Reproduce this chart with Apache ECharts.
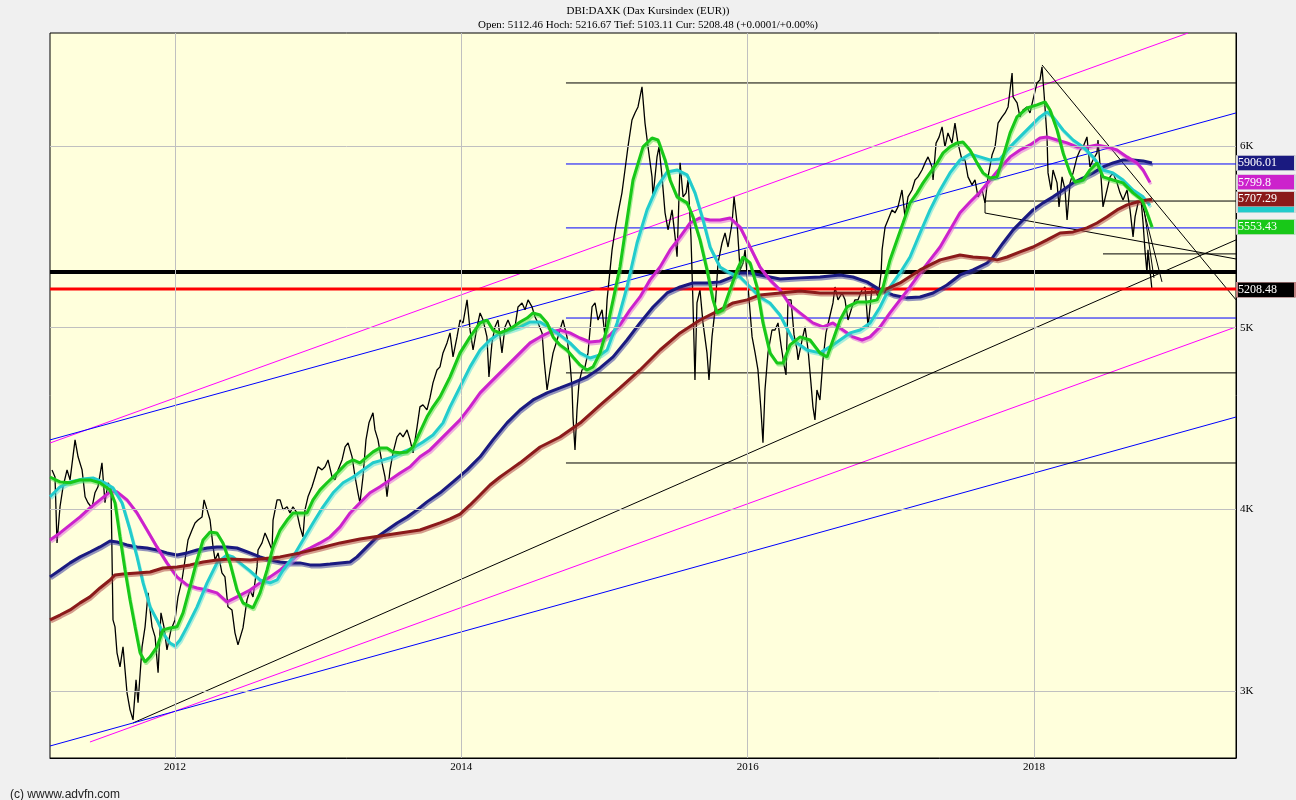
<!DOCTYPE html>
<html>
<head>
<meta charset="utf-8">
<script src="https://cdn.jsdelivr.net/npm/echarts@6/dist/echarts.min.js"></script>
<style>html,body{margin:0;padding:0;background:#F0F0F0;}#c{width:1296px;height:800px;}</style>
</head>
<body>
<div id="c"></div>
<script>
// ---- axis range & ticks ----
const X_MIN = 2011.127, X_MAX = 2019.411;
const Y_MIN = 2631, Y_MAX = 6622;
const xTicks = [2012, 2014, 2016, 2018];
const yTicks = [3000, 4000, 5000, 6000];

// ---- price (close) [decimal year, value] ----
const price = [[2011.141,4217],[2011.162,4178],[2011.176,3815],[2011.197,4014],[2011.218,4124],[2011.246,4217],[2011.267,4162],[2011.302,4382],[2011.323,4289],[2011.351,4217],[2011.372,4069],[2011.392,4036],[2011.420,4008],[2011.441,4091],[2011.462,4124],[2011.490,4256],[2011.511,4036],[2011.532,4146],[2011.553,4124],[2011.567,3391],[2011.581,3353],[2011.595,3210],[2011.616,3133],[2011.637,3243],[2011.665,2990],[2011.686,2896],[2011.707,2841],[2011.728,3061],[2011.742,2935],[2011.770,3243],[2011.791,3353],[2011.812,3540],[2011.840,3353],[2011.861,3298],[2011.882,3100],[2011.902,3430],[2011.923,3353],[2011.944,3226],[2011.972,3336],[2012.000,3391],[2012.021,3518],[2012.049,3611],[2012.070,3721],[2012.091,3831],[2012.119,3886],[2012.140,3925],[2012.161,3941],[2012.189,3958],[2012.203,4052],[2012.224,3997],[2012.245,3941],[2012.266,3793],[2012.280,3721],[2012.301,3760],[2012.328,3650],[2012.349,3628],[2012.370,3463],[2012.398,3446],[2012.419,3320],[2012.440,3254],[2012.475,3347],[2012.503,3501],[2012.524,3556],[2012.545,3518],[2012.573,3683],[2012.580,3776],[2012.608,3815],[2012.629,3870],[2012.650,3831],[2012.678,3776],[2012.685,3941],[2012.713,4052],[2012.734,4052],[2012.755,3997],[2012.783,4014],[2012.803,3980],[2012.824,4014],[2012.852,3980],[2012.873,3903],[2012.894,3848],[2012.908,3997],[2012.929,4069],[2012.957,4124],[2012.978,4178],[2012.999,4234],[2013.027,4217],[2013.048,4234],[2013.069,4272],[2013.097,4178],[2013.118,4162],[2013.139,4217],[2013.167,4272],[2013.188,4344],[2013.209,4366],[2013.237,4289],[2013.258,4178],[2013.278,4091],[2013.292,4036],[2013.313,4178],[2013.334,4382],[2013.355,4476],[2013.383,4531],[2013.397,4437],[2013.418,4382],[2013.446,4256],[2013.467,4178],[2013.481,4069],[2013.502,4217],[2013.523,4311],[2013.551,4399],[2013.572,4421],[2013.593,4399],[2013.621,4437],[2013.642,4382],[2013.663,4311],[2013.691,4454],[2013.711,4564],[2013.732,4575],[2013.760,4547],[2013.781,4613],[2013.802,4696],[2013.830,4767],[2013.851,4784],[2013.872,4861],[2013.900,4916],[2013.921,4971],[2013.942,4839],[2013.970,4949],[2013.991,5042],[2014.012,5026],[2014.040,5153],[2014.061,4987],[2014.082,4877],[2014.110,5004],[2014.131,5081],[2014.152,5042],[2014.179,4949],[2014.193,4728],[2014.214,4916],[2014.235,5004],[2014.256,5042],[2014.284,4861],[2014.305,5004],[2014.326,5042],[2014.354,4987],[2014.375,5004],[2014.396,5114],[2014.424,5136],[2014.445,5098],[2014.466,5153],[2014.494,5114],[2014.515,5059],[2014.536,5026],[2014.564,4971],[2014.578,4822],[2014.599,4657],[2014.620,4767],[2014.641,4861],[2014.669,4932],[2014.689,4987],[2014.710,5042],[2014.738,4949],[2014.759,4806],[2014.773,4673],[2014.780,4509],[2014.794,4327],[2014.808,4547],[2014.822,4696],[2014.843,4767],[2014.864,4784],[2014.885,4861],[2014.913,5114],[2014.934,5136],[2014.955,5042],[2014.983,5098],[2015.004,4949],[2015.018,5153],[2015.039,5318],[2015.053,5428],[2015.074,5538],[2015.095,5632],[2015.122,5742],[2015.143,5868],[2015.164,5995],[2015.192,6143],[2015.213,6182],[2015.234,6215],[2015.262,6326],[2015.283,6126],[2015.304,5995],[2015.332,5830],[2015.339,5720],[2015.367,5940],[2015.381,5995],[2015.402,5830],[2015.423,5632],[2015.444,5538],[2015.472,5648],[2015.493,5500],[2015.507,5390],[2015.528,5907],[2015.549,5720],[2015.570,5742],[2015.584,5813],[2015.604,5500],[2015.618,5136],[2015.632,4712],[2015.646,5136],[2015.667,5208],[2015.688,5026],[2015.716,4861],[2015.730,4712],[2015.751,4949],[2015.772,5098],[2015.793,5356],[2015.821,5466],[2015.842,5521],[2015.863,5444],[2015.891,5576],[2015.905,5720],[2015.926,5576],[2015.947,5318],[2015.968,5356],[2015.982,5428],[2016.003,5224],[2016.031,4949],[2016.052,4861],[2016.072,4767],[2016.093,4547],[2016.107,4366],[2016.121,4657],[2016.142,4861],[2016.170,4987],[2016.191,4987],[2016.212,5026],[2016.233,4904],[2016.254,4795],[2016.268,4740],[2016.282,5153],[2016.303,5153],[2016.324,4960],[2016.345,4877],[2016.352,4822],[2016.380,4932],[2016.401,5004],[2016.422,4877],[2016.442,4696],[2016.456,4564],[2016.470,4492],[2016.484,4657],[2016.505,4602],[2016.526,4822],[2016.547,4971],[2016.568,5042],[2016.596,5136],[2016.610,5224],[2016.631,5153],[2016.659,5191],[2016.680,5153],[2016.701,5042],[2016.729,5114],[2016.750,5153],[2016.771,5153],[2016.799,5208],[2016.820,5224],[2016.841,5004],[2016.869,5224],[2016.890,5208],[2016.911,5169],[2016.932,5301],[2016.939,5428],[2016.960,5554],[2016.980,5593],[2017.008,5648],[2017.029,5632],[2017.050,5665],[2017.078,5758],[2017.099,5610],[2017.120,5720],[2017.148,5758],[2017.169,5813],[2017.190,5830],[2017.218,5868],[2017.239,5907],[2017.260,5940],[2017.288,5885],[2017.295,5813],[2017.316,6016],[2017.337,6049],[2017.358,6105],[2017.378,5995],[2017.399,6072],[2017.427,6016],[2017.448,6126],[2017.469,6016],[2017.497,5923],[2017.518,5923],[2017.539,5830],[2017.567,5786],[2017.588,5813],[2017.609,5720],[2017.637,5758],[2017.658,5687],[2017.679,5830],[2017.707,5950],[2017.728,5995],[2017.749,6126],[2017.777,6160],[2017.798,6182],[2017.819,6215],[2017.847,6402],[2017.854,6270],[2017.882,6237],[2017.902,6160],[2017.923,6198],[2017.951,6215],[2017.972,6182],[2017.993,6254],[2018.021,6347],[2018.042,6364],[2018.056,6435],[2018.070,6292],[2018.091,6050],[2018.098,5852],[2018.119,5758],[2018.133,5868],[2018.161,5797],[2018.175,5665],[2018.196,5830],[2018.217,5758],[2018.231,5593],[2018.252,5797],[2018.273,5852],[2018.301,5940],[2018.322,5978],[2018.343,5995],[2018.370,6050],[2018.391,5885],[2018.412,5923],[2018.440,5962],[2018.447,6033],[2018.468,5830],[2018.482,5665],[2018.510,5758],[2018.531,5830],[2018.552,5852],[2018.580,5797],[2018.601,5742],[2018.622,5703],[2018.650,5758],[2018.671,5648],[2018.692,5500],[2018.706,5610],[2018.727,5687],[2018.748,5703],[2018.762,5576],[2018.775,5428],[2018.789,5301],[2018.796,5428],[2018.810,5318],[2018.824,5208.48]];

// ---- moving averages ----
const maGreen = [[2011.127,4178],[2011.197,4151],[2011.267,4146],[2011.337,4162],[2011.406,4162],[2011.476,4146],[2011.546,4107],[2011.581,4036],[2011.616,3848],[2011.651,3666],[2011.686,3501],[2011.721,3353],[2011.756,3210],[2011.791,3160],[2011.826,3188],[2011.874,3243],[2011.916,3336],[2011.965,3347],[2012.014,3353],[2012.056,3430],[2012.105,3573],[2012.154,3721],[2012.196,3831],[2012.245,3875],[2012.293,3870],[2012.335,3815],[2012.384,3705],[2012.433,3556],[2012.475,3485],[2012.545,3457],[2012.594,3540],[2012.643,3666],[2012.685,3793],[2012.734,3886],[2012.783,3941],[2012.824,3980],[2012.873,3980],[2012.922,3980],[2012.964,4052],[2013.013,4107],[2013.062,4146],[2013.104,4178],[2013.153,4217],[2013.202,4256],[2013.244,4272],[2013.292,4256],[2013.341,4289],[2013.383,4316],[2013.432,4338],[2013.481,4338],[2013.523,4316],[2013.572,4311],[2013.621,4316],[2013.663,4344],[2013.711,4426],[2013.760,4509],[2013.802,4564],[2013.851,4619],[2013.921,4729],[2013.991,4861],[2014.061,4949],[2014.131,5026],[2014.179,5042],[2014.221,4987],[2014.270,4971],[2014.319,4987],[2014.361,5004],[2014.410,5031],[2014.459,5053],[2014.501,5081],[2014.550,5070],[2014.599,5026],[2014.641,4949],[2014.689,4905],[2014.738,4877],[2014.780,4839],[2014.829,4795],[2014.878,4767],[2014.920,4784],[2014.969,4861],[2015.018,4998],[2015.060,5153],[2015.108,5334],[2015.157,5593],[2015.199,5813],[2015.269,5995],[2015.332,6044],[2015.374,6033],[2015.423,5923],[2015.458,5813],[2015.507,5720],[2015.577,5687],[2015.618,5610],[2015.667,5483],[2015.716,5318],[2015.758,5153],[2015.786,5081],[2015.828,5098],[2015.877,5208],[2015.926,5318],[2015.968,5389],[2016.017,5356],[2016.065,5224],[2016.107,5026],[2016.156,4861],[2016.205,4806],[2016.247,4806],[2016.296,4905],[2016.366,4949],[2016.436,4932],[2016.505,4861],[2016.554,4839],[2016.596,4932],[2016.645,5042],[2016.694,5114],[2016.764,5141],[2016.834,5141],[2016.904,5153],[2016.946,5224],[2016.994,5373],[2017.043,5483],[2017.085,5576],[2017.134,5687],[2017.183,5742],[2017.225,5797],[2017.274,5852],[2017.323,5907],[2017.365,5962],[2017.413,5995],[2017.462,6017],[2017.504,6022],[2017.553,5978],[2017.602,5907],[2017.644,5852],[2017.693,5824],[2017.742,5830],[2017.784,5940],[2017.833,6072],[2017.881,6160],[2017.951,6209],[2018.021,6226],[2018.077,6243],[2018.112,6198],[2018.161,6088],[2018.203,5962],[2018.252,5852],[2018.287,5802],[2018.343,5813],[2018.391,5868],[2018.440,5907],[2018.482,5830],[2018.552,5813],[2018.622,5797],[2018.692,5742],[2018.755,5703],[2018.789,5632],[2018.824,5553.43]];
const maCyan = [[2011.127,4069],[2011.197,4124],[2011.267,4151],[2011.358,4167],[2011.427,4173],[2011.497,4151],[2011.567,4118],[2011.630,4036],[2011.686,3886],[2011.735,3738],[2011.777,3595],[2011.826,3463],[2011.874,3391],[2011.916,3320],[2011.965,3264],[2012.000,3248],[2012.035,3281],[2012.084,3353],[2012.154,3463],[2012.224,3595],[2012.293,3705],[2012.363,3749],[2012.405,3738],[2012.454,3705],[2012.524,3661],[2012.594,3611],[2012.664,3595],[2012.713,3611],[2012.755,3666],[2012.824,3738],[2012.894,3831],[2012.964,3925],[2013.034,4014],[2013.104,4091],[2013.174,4146],[2013.244,4178],[2013.313,4217],[2013.383,4256],[2013.453,4272],[2013.523,4289],[2013.593,4316],[2013.663,4338],[2013.732,4371],[2013.802,4409],[2013.872,4476],[2013.921,4564],[2013.991,4674],[2014.061,4784],[2014.131,4877],[2014.200,4932],[2014.270,4971],[2014.340,4987],[2014.410,5004],[2014.480,5031],[2014.550,5031],[2014.620,4998],[2014.689,4960],[2014.759,4916],[2014.829,4861],[2014.899,4833],[2014.969,4850],[2015.018,4877],[2015.088,5026],[2015.157,5224],[2015.227,5466],[2015.297,5648],[2015.367,5775],[2015.437,5857],[2015.507,5868],[2015.577,5841],[2015.632,5742],[2015.688,5593],[2015.737,5444],[2015.807,5334],[2015.877,5301],[2015.947,5279],[2016.017,5224],[2016.086,5169],[2016.156,5136],[2016.226,5070],[2016.317,4932],[2016.415,4877],[2016.505,4861],[2016.575,4894],[2016.645,4932],[2016.715,4971],[2016.785,4987],[2016.855,5026],[2016.925,5114],[2016.994,5224],[2017.064,5301],[2017.134,5389],[2017.204,5521],[2017.274,5648],[2017.344,5758],[2017.413,5852],[2017.483,5923],[2017.553,5956],[2017.623,5940],[2017.693,5923],[2017.763,5929],[2017.833,5995],[2017.902,6050],[2017.972,6105],[2018.042,6160],[2018.091,6187],[2018.133,6160],[2018.203,6088],[2018.273,6033],[2018.343,5995],[2018.412,5940],[2018.482,5868],[2018.552,5852],[2018.622,5813],[2018.692,5758],[2018.762,5720],[2018.810,5673.6]];
const maMagenta = [[2011.127,3831],[2011.197,3870],[2011.267,3914],[2011.337,3958],[2011.406,4008],[2011.476,4052],[2011.546,4096],[2011.595,4096],[2011.665,4052],[2011.735,3980],[2011.805,3886],[2011.874,3793],[2011.944,3705],[2012.014,3628],[2012.084,3584],[2012.154,3567],[2012.224,3556],[2012.293,3540],[2012.363,3490],[2012.433,3518],[2012.524,3556],[2012.594,3595],[2012.664,3628],[2012.734,3666],[2012.803,3710],[2012.873,3760],[2012.943,3787],[2013.013,3815],[2013.083,3848],[2013.153,3903],[2013.223,3980],[2013.292,4036],[2013.362,4091],[2013.432,4124],[2013.502,4162],[2013.572,4200],[2013.642,4234],[2013.711,4289],[2013.781,4327],[2013.851,4382],[2013.921,4437],[2013.991,4492],[2014.061,4564],[2014.131,4641],[2014.200,4696],[2014.270,4751],[2014.340,4806],[2014.410,4861],[2014.480,4916],[2014.550,4949],[2014.620,4976],[2014.689,4987],[2014.759,4971],[2014.829,4943],[2014.899,4921],[2014.969,4927],[2015.039,4960],[2015.108,5015],[2015.178,5098],[2015.248,5169],[2015.318,5263],[2015.388,5334],[2015.458,5428],[2015.528,5500],[2015.597,5576],[2015.667,5604],[2015.737,5593],[2015.807,5593],[2015.877,5604],[2015.947,5554],[2016.017,5444],[2016.086,5334],[2016.156,5263],[2016.226,5208],[2016.296,5125],[2016.366,5081],[2016.456,5026],[2016.526,5004],[2016.596,5026],[2016.666,4987],[2016.736,4949],[2016.799,4932],[2016.855,4949],[2016.925,5004],[2016.994,5081],[2017.064,5153],[2017.134,5224],[2017.204,5301],[2017.274,5373],[2017.344,5444],[2017.413,5538],[2017.483,5632],[2017.553,5692],[2017.623,5747],[2017.693,5813],[2017.763,5879],[2017.833,5940],[2017.902,5978],[2017.972,6006],[2018.042,6044],[2018.091,6050],[2018.161,6033],[2018.231,6017],[2018.301,5995],[2018.370,5995],[2018.440,6006],[2018.510,5995],[2018.580,5978],[2018.650,5940],[2018.720,5907],[2018.762,5868],[2018.810,5799.8]];
const maNavy = [[2011.127,3628],[2011.197,3666],[2011.267,3705],[2011.337,3738],[2011.406,3765],[2011.476,3793],[2011.546,3826],[2011.595,3820],[2011.665,3804],[2011.735,3793],[2011.805,3787],[2011.874,3776],[2011.944,3760],[2012.014,3749],[2012.084,3760],[2012.154,3776],[2012.224,3787],[2012.293,3793],[2012.363,3793],[2012.433,3787],[2012.524,3760],[2012.594,3738],[2012.664,3721],[2012.734,3710],[2012.803,3705],[2012.873,3705],[2012.943,3694],[2013.013,3694],[2013.083,3699],[2013.153,3705],[2013.223,3710],[2013.271,3738],[2013.341,3793],[2013.411,3848],[2013.481,3886],[2013.551,3925],[2013.621,3958],[2013.691,3997],[2013.760,4041],[2013.851,4091],[2013.942,4151],[2014.040,4217],[2014.131,4289],[2014.221,4382],[2014.319,4476],[2014.410,4547],[2014.501,4602],[2014.599,4641],[2014.689,4668],[2014.780,4696],[2014.878,4729],[2014.969,4778],[2015.060,4839],[2015.157,4932],[2015.248,5026],[2015.339,5114],[2015.437,5191],[2015.528,5224],[2015.618,5246],[2015.716,5246],[2015.807,5252],[2015.877,5274],[2015.947,5301],[2016.017,5301],[2016.086,5290],[2016.156,5279],[2016.226,5268],[2016.366,5274],[2016.505,5279],[2016.645,5290],[2016.736,5279],[2016.834,5252],[2016.925,5208],[2017.015,5180],[2017.113,5164],[2017.204,5169],[2017.295,5191],[2017.392,5235],[2017.483,5290],[2017.574,5318],[2017.672,5356],[2017.714,5389],[2017.784,5466],[2017.854,5538],[2017.923,5593],[2017.993,5648],[2018.063,5687],[2018.133,5720],[2018.203,5758],[2018.273,5797],[2018.343,5824],[2018.412,5852],[2018.482,5885],[2018.552,5907],[2018.622,5923],[2018.692,5923],[2018.762,5918],[2018.824,5906.01]];
const maBrown = [[2011.127,3391],[2011.197,3418],[2011.267,3446],[2011.337,3485],[2011.406,3518],[2011.476,3567],[2011.546,3611],[2011.581,3639],[2011.637,3644],[2011.735,3650],[2011.826,3655],[2011.916,3677],[2012.014,3683],[2012.105,3694],[2012.196,3710],[2012.293,3721],[2012.384,3727],[2012.524,3721],[2012.594,3727],[2012.734,3738],[2012.873,3760],[2013.013,3787],[2013.153,3815],[2013.292,3837],[2013.432,3853],[2013.572,3870],[2013.711,3886],[2013.851,3925],[2013.921,3947],[2013.991,3974],[2014.061,4024],[2014.131,4079],[2014.200,4134],[2014.270,4178],[2014.340,4217],[2014.410,4256],[2014.550,4343],[2014.689,4398],[2014.829,4475],[2014.969,4574],[2015.108,4668],[2015.248,4767],[2015.388,4877],[2015.528,4971],[2015.667,5042],[2015.807,5098],[2015.898,5136],[2015.996,5153],[2016.086,5180],[2016.226,5191],[2016.366,5202],[2016.505,5191],[2016.645,5191],[2016.785,5191],[2016.925,5197],[2017.064,5246],[2017.204,5318],[2017.344,5373],[2017.483,5400],[2017.574,5389],[2017.672,5384],[2017.742,5373],[2017.812,5389],[2017.902,5417],[2017.993,5444],[2018.091,5483],[2018.182,5521],[2018.273,5527],[2018.370,5549],[2018.440,5576],[2018.510,5610],[2018.580,5648],[2018.650,5676],[2018.720,5692],[2018.789,5703],[2018.824,5707.29]];

// ---- drawn trend lines ----
const upperMagenta = [[2011.127,4365],[2019.076,6622]];
const upperBlue = [[2011.127,4382],[2019.411,6182]];
const lowerBlack = [[2011.707,2824],[2019.411,5483]];
const lowerMagenta = [[2011.406,2719],[2019.411,5004]];
const lowerBlue = [[2011.127,2697],[2019.411,4508]];
const downTrend = [[2018.056,6446],[2019.411,5153]];
const wedgeLine = [[2017.658,5697],[2017.658,5631],[2019.411,5378]];
const fallLine1 = [[2018.748,5703],[2018.894,5252]];
const fallLine2 = [[2018.762,5687],[2018.838,5274]];
// horizontal levels
const levelStart = 2014.731;
const blackLevels = [6347, 4751, 4255];
const blueLevels = [5901, 5549, 5053];
const shortLevels = [[2017.658,5697],[2018.482,5406]];
const thickBlackLevel = 5307;
const redLevel = 5213;

const SERIF = 'Liberation Serif';

function seg(data, color, width, z) {
  return {type:'line', data:data, symbol:'none', silent:true, z:z||2,
    lineStyle:{color:color, width:width||1}, animation:false};
}
function maSeries(data, color, shadow, text, z) {
  const last = data[data.length-1];
  return {type:'line', data:data, symbol:'none', silent:true, z:z, animation:false,
    lineStyle:{color:color, width:3, shadowColor:shadow, shadowBlur:0, shadowOffsetX:1, shadowOffsetY:2},
    markPoint:{silent:true, animation:false, symbol:'rect', symbolSize:[58,15], symbolOffset:[30,0],
      itemStyle:{color:color, borderColor:'#d8d8d8', borderWidth:1},
      label:{show:!!text, position:'insideLeft', distance:2, color:'#fff', fontFamily:SERIF, fontSize:12, formatter:text||''},
      data:[{coord:[X_MAX, last[1]]}]}
  };
}

const series = [];
// gridlines
series.push({type:'line', data:[], z:1, silent:true, animation:false,
  markLine:{silent:true, animation:false, symbol:['none','none'], label:{show:false},
    lineStyle:{color:'#C0C0C0', width:1, type:'solid'},
    data: xTicks.map(v=>({xAxis:v})).concat(yTicks.map(v=>({yAxis:v})))}});
// trend lines
series.push(seg(upperMagenta,'#FF00FF'));
series.push(seg(upperBlue,'#0000FF'));
series.push(seg(lowerBlack,'#000000'));
series.push(seg(lowerMagenta,'#FF00FF'));
series.push(seg(lowerBlue,'#0000FF'));
series.push(seg(downTrend,'#000000'));
series.push(seg(wedgeLine,'#000000'));
series.push(seg(fallLine1,'#000000'));
series.push(seg(fallLine2,'#000000'));
blackLevels.forEach(v=>series.push(seg([[levelStart,v],[X_MAX,v]],'#000000')));
blueLevels.forEach(v=>series.push(seg([[levelStart,v],[X_MAX,v]],'#0000FF')));
shortLevels.forEach(p=>series.push(seg([p,[X_MAX,p[1]]],'#000000')));
// price
series.push({type:'line', data:price, symbol:'none', silent:true, z:3, animation:false,
  lineStyle:{color:'#000', width:1.3},
  markPoint:{silent:true, animation:false, symbol:'rect', symbolSize:[58,15], symbolOffset:[30,0],
    itemStyle:{color:'#000', borderColor:'#c08080', borderWidth:1},
    label:{show:true, position:'insideLeft', distance:2, color:'#fff', fontFamily:SERIF, fontSize:12, formatter:'5208.48'},
    data:[{coord:[X_MAX, price[price.length-1][1]]}]}});
// thick levels
series.push(seg([[X_MIN,thickBlackLevel],[X_MAX,thickBlackLevel]],'#000000',4,3));
series.push(seg([[X_MIN,redLevel],[X_MAX,redLevel]],'#FF0000',3,3));
// moving averages (cyan label box sits under the brown one, text hidden)
series.push(maSeries(maNavy,'#1A1A80','rgba(60,60,160,0.55)','5906.01',4));
series.push(maSeries(maMagenta,'#CC22CC','rgba(220,90,220,0.5)','5799.8',4));
series.push(maSeries(maCyan,'#22CCCC','rgba(80,220,220,0.5)','',4));
series.push(maSeries(maBrown,'#8B1A1A','rgba(170,60,60,0.5)','5707.29',5));
series.push(maSeries(maGreen,'#18C818','rgba(80,220,80,0.5)','5553.43',5));

const chart = echarts.init(document.getElementById('c'), null, {renderer:'canvas'});
chart.setOption({
  animation:false,
  backgroundColor:'#F0F0F0',
  title:[
    {text:'DBI:DAXK (Dax Kursindex (EUR))', subtext:'Open: 5112.46 Hoch: 5216.67 Tief: 5103.11 Cur: 5208.48 (+0.0001/+0.00%)',
      left:'center', top:1, itemGap:3,
      textStyle:{fontFamily:SERIF, fontSize:11, fontWeight:'normal', color:'#000'},
      subtextStyle:{fontFamily:SERIF, fontSize:11, color:'#000'}},
    {text:'(c) wwww.advfn.com', left:5, top:784,
      textStyle:{fontFamily:'Liberation Sans', fontSize:12, fontWeight:'normal', color:'#222'}}
  ],
  grid:{left:50, right:60, top:33, bottom:42, show:true, backgroundColor:'#FFFFDC', borderColor:'#000', borderWidth:1},
  xAxis:{type:'value', min:X_MIN, max:X_MAX,
    axisLine:{show:true, lineStyle:{color:'#000'}}, axisTick:{show:false}, splitLine:{show:false},
    axisLabel:{customValues:xTicks, formatter:v=>String(Math.round(v)), fontFamily:SERIF, fontSize:11, color:'#000', margin:4}},
  yAxis:{type:'value', position:'right', min:Y_MIN, max:Y_MAX,
    axisLine:{show:true, lineStyle:{color:'#000'}}, axisTick:{show:false}, splitLine:{show:false},
    axisLabel:{customValues:yTicks, formatter:v=>(v/1000)+'K', fontFamily:SERIF, fontSize:11, color:'#000', margin:4}},
  series:series
});
</script>
</body>
</html>
